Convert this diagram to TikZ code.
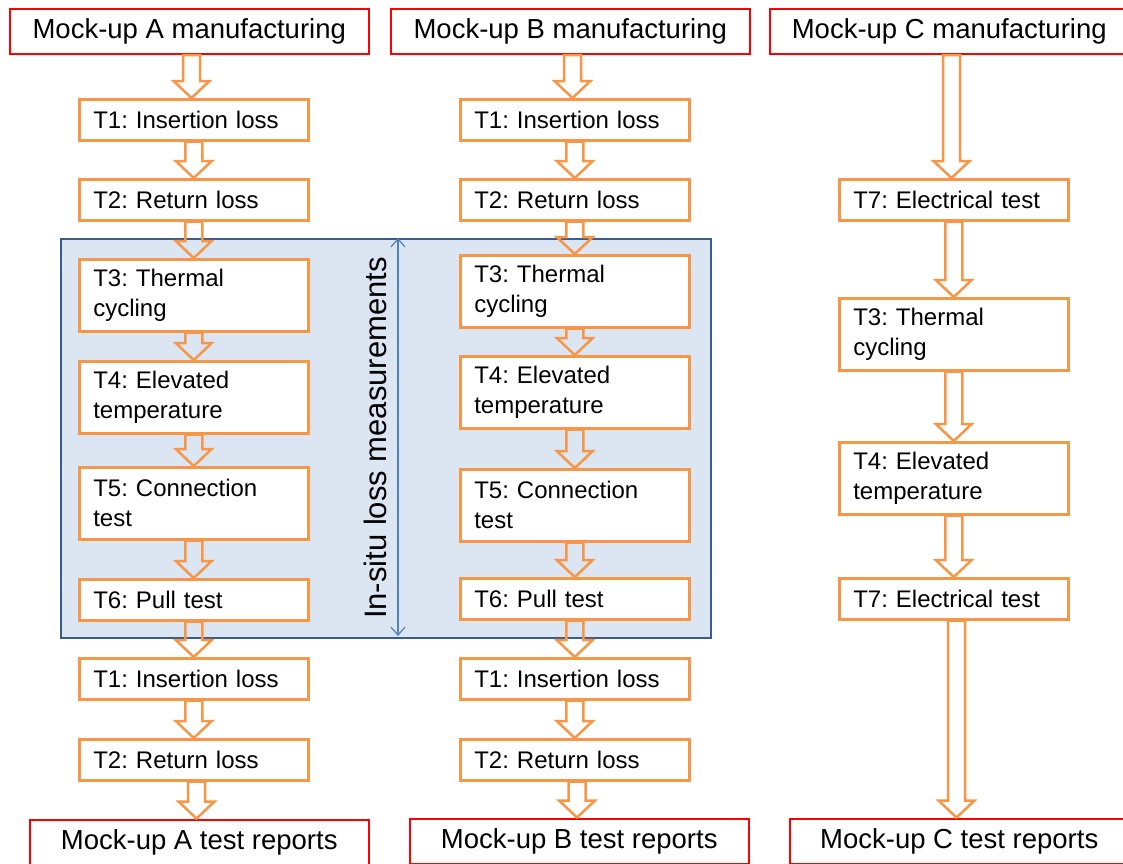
\documentclass[tikz,border=0pt]{standalone}
\usepackage{fontspec}
\setmainfont{Liberation Sans}
\usetikzlibrary{calc,arrows.meta}
\frenchspacing
\definecolor{orng}{HTML}{F79646}
\definecolor{rd}{HTML}{FF0000}
\definecolor{bbord}{HTML}{385D8A}
\definecolor{bfill}{HTML}{DCE6F2}
\definecolor{barw}{HTML}{4F81BD}
% block arrow between two boxes
\def\sw{8.5pt}\def\hw{18pt}\def\hl{17pt}
\newcommand\barr[2]{%
  \draw[barrow] let \p1=(#1.south), \p2=(#2.north), \p3=($(\p1)!0.5!(\p2)$) in
    (\x3-\sw,\y1) -- (\x3-\sw,\y2+\hl) -- (\x3-\hw,\y2+\hl) -- (\x3,\y2)
    -- (\x3+\hw,\y2+\hl) -- (\x3+\sw,\y2+\hl) -- (\x3+\sw,\y1) -- cycle;}
\begin{document}
\begin{tikzpicture}[x=1pt,y=-1pt,line join=miter,
	redbox/.style={draw=rd,line width=2.5pt,fill=white,anchor=north west,inner sep=0pt,
		minimum height=45pt,font=\fontsize{27.5}{32}\selectfont},
	testbox/.style={draw=orng,line width=2.5pt,fill=white,anchor=north west,text width=201pt,
		inner xsep=14pt,inner ysep=0pt,align=left,minimum height=41pt,font=\fontsize{24}{30}\selectfont},
	twoline/.style={testbox,minimum height=72pt},
	barrow/.style={draw=orng,line width=2.5pt}]
	\useasboundingbox (0,0) rectangle (1123,863);
	% in-situ zone
	\node[draw=bbord,fill=bfill,line width=2.5pt,anchor=north west,inner sep=0pt,
		minimum width=650pt,minimum height=399pt] (zone) at (59.5,237.5) {};
	\coordinate (mtop) at (398,238);
	\coordinate (mbot) at (398,636);
	\draw[barw,line width=1.2pt,{Straight Barb[length=8pt,width=14pt]}-{Straight Barb[length=8pt,width=14pt]}] (mtop) -- (mbot);
	\node[rotate=90,font=\fontsize{31}{37}\selectfont] (lbl) at (375,438) {In-situ loss measurements};
	% headers and reports
	\node[redbox,minimum width=359pt] (ha) at (8.5,7.5) {Mock-up A manufacturing};
	\node[redbox,minimum width=359pt] (hb) at (389.5,7.5) {Mock-up B manufacturing};
	\node[redbox,minimum width=359pt] (hc) at (768.5,7.5) {Mock-up C manufacturing};
	\node[redbox,minimum width=339pt] (ra) at (28.5,818.5) {Mock-up A test reports};
	\node[redbox,minimum width=339pt] (rb) at (408.5,817.5) {Mock-up B test reports};
	\node[redbox,minimum width=339pt] (rc) at (788.5,817.5) {Mock-up C test reports};
	% mock-up A
	\node[testbox] (a1) at (78,98) {T1: Insertion loss};
	\node[testbox] (a2) at (78,178) {T2: Return loss};
	\node[twoline] (a3) at (78,258) {T3: Thermal\\cycling};
	\node[twoline] (a4) at (78,360) {T4: Elevated\\temperature};
	\node[twoline] (a5) at (78,466) {T5: Connection\\test};
	\node[testbox] (a6) at (78,578) {T6: Pull test};
	\node[testbox] (a7) at (78,657) {T1: Insertion loss};
	\node[testbox] (a8) at (78,738) {T2: Return loss};
	% mock-up B
	\node[testbox] (b1) at (459,98) {T1: Insertion loss};
	\node[testbox] (b2) at (459,178) {T2: Return loss};
	\node[twoline] (b3) at (459,254) {T3: Thermal\\cycling};
	\node[twoline] (b4) at (459,355) {T4: Elevated\\temperature};
	\node[twoline] (b5) at (459,468) {T5: Connection\\test};
	\node[testbox] (b6) at (459,577) {T6: Pull test};
	\node[testbox] (b7) at (459,657) {T1: Insertion loss};
	\node[testbox] (b8) at (459,738) {T2: Return loss};
	% mock-up C
	\node[testbox] (c1) at (838,178) {T7: Electrical test};
	\node[twoline] (c2) at (838,297) {T3: Thermal\\cycling};
	\node[twoline] (c3) at (838,441) {T4: Elevated\\temperature};
	\node[testbox] (c4) at (838,577) {T7: Electrical test};
	% arrows
	\foreach \s/\t in {ha/a1,a1/a2,a2/a3,a3/a4,a4/a5,a5/a6,a6/a7,a7/a8,a8/ra,
		hb/b1,b1/b2,b2/b3,b3/b4,b4/b5,b5/b6,b6/b7,b7/b8,b8/rb,
		hc/c1,c1/c2,c2/c3,c3/c4,c4/rc}
		{\barr{\s}{\t}}
\end{tikzpicture}
\end{document}
